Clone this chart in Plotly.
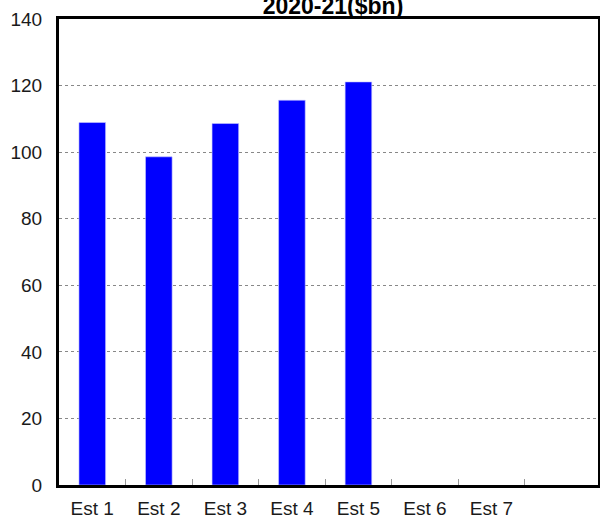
import plotly.graph_objects as go

categories = ["Est 1", "Est 2", "Est 3", "Est 4", "Est 5", "Est 6", "Est 7"]
values = [108.9, 98.6, 108.6, 115.6, 121.1, None, None]
title_text = "2020-21($bn)"
y_ticks = [0, 20, 40, 60, 80, 100, 120, 140]

xpos = list(range(len(categories)))

fig = go.Figure()
fig.add_trace(go.Bar(
    x=xpos, y=values, width=0.4,
    marker=dict(color="#0000FF", line=dict(color="#C8C8FF", width=0.6)),
))

fig.update_layout(
    width=600, height=519,
    margin=dict(l=59, r=2, t=19, b=34, autoexpand=False),
    paper_bgcolor="white", plot_bgcolor="white",
    showlegend=False,
    font=dict(family="Liberation Sans, Arial, sans-serif", size=19, color="#1a1a1a"),
    title=dict(text="<b>" + title_text + "</b>", x=0.555, xanchor="center",
               y=1.0, yanchor="bottom", yref="paper", pad=dict(b=5),
               font=dict(size=23, family="Liberation Sans, Arial, sans-serif", color="black")),
)

fig.update_xaxes(
    range=[-0.5, 7.6], automargin=False,
    tickvals=xpos, ticktext=categories, ticks="", ticklen=0,
    showgrid=False, zeroline=False,
    showline=True, linecolor="black", linewidth=3, mirror=True,
    ticklabelstandoff=4,
    minor=dict(tickvals=[i + 0.5 for i in xpos], ticks="inside", ticklen=6,
               tickcolor="#999999", tickwidth=1, showgrid=False),
)
fig.update_yaxes(
    range=[0, 140], tickvals=y_ticks, ticks="", automargin=False,
    showgrid=True, gridcolor="#888888", gridwidth=1, griddash="dot",
    zeroline=False,
    showline=True, linecolor="black", linewidth=3, mirror=True,
    ticklabelstandoff=10,
)

fig.write_html("out.html")
